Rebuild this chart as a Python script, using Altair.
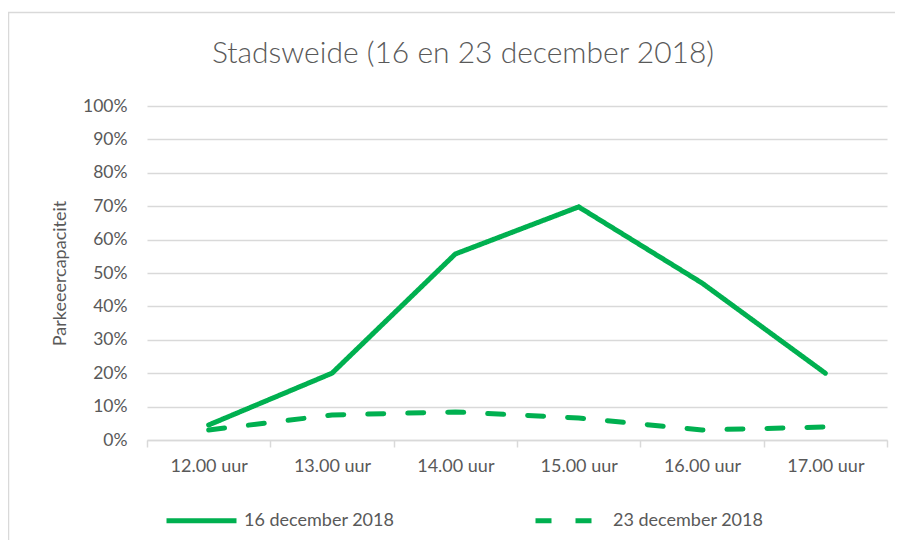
import altair as alt
import pandas as pd

hours = ["12.00 uur", "13.00 uur", "14.00 uur", "15.00 uur", "16.00 uur", "17.00 uur"]
series_names = ["16 december 2018", "23 december 2018"]
dec16 = [0.045, 0.20, 0.557, 0.698, 0.47, 0.20]
dec23 = [0.03, 0.075, 0.084, 0.066, 0.03, 0.039]
y_ticks = [i / 10 for i in range(11)]

rows = []
for h, v in zip(hours, dec16):
    rows.append({"uur": h, "serie": series_names[0], "waarde": v})
for h, v in zip(hours, dec23):
    rows.append({"uur": h, "serie": series_names[1], "waarde": v})
df = pd.DataFrame(rows)

GREEN = "#00B050"
TXT = "#595959"
GRID = "#D9D9D9"
FONT = "Lato"
W = 400

lines = alt.Chart(df).mark_line(strokeWidth=5, strokeCap="round", color=GREEN).encode(
    x=alt.X("uur:N", sort=hours, title=None,
            axis=alt.Axis(labelAngle=0, tickBand="extent", domainColor=GRID, tickColor=GRID,
                          tickSize=7, labelPadding=10, labelFontSize=18, labelColor=TXT,
                          labelFont=FONT, labelFontWeight=W, grid=False, domainWidth=1.5,
                          tickWidth=1.5)),
    y=alt.Y("waarde:Q", scale=alt.Scale(domain=[0, 1]),
            axis=alt.Axis(values=y_ticks, format=".0%", domain=False, ticks=False,
                          labelPadding=20, labelFontSize=17.5, labelColor=TXT, labelFont=FONT,
                          labelFontWeight=W,
                          gridColor=GRID, gridWidth=1.5, title="Parkeeercapaciteit",
                          titleFontSize=18, titleFont=FONT, titleColor=TXT,
                          titleFontWeight=W, titleX=-87, titleY=167,
                          titleBaseline="middle", titleAngle=-90)),
    strokeDash=alt.StrokeDash("serie:N", sort=series_names,
                              scale=alt.Scale(domain=series_names, range=[[1, 0], [16, 24]]),
                              legend=alt.Legend(title=None, orient="none", legendX=17, legendY=377,
                                                direction="horizontal", symbolType="stroke",
                                                symbolSize=4900, symbolStrokeWidth=5,
                                                symbolStrokeColor=GREEN, labelFontSize=18,
                                                labelColor=TXT, labelFont=FONT,
                                                labelFontWeight=W, labelOffset=5,
                                                columnPadding=130)),
)

frame = alt.Chart(pd.DataFrame({"a": [0]})).mark_rect(
    fill=None, stroke=GRID, strokeWidth=1.5, clip=False
).encode(x=alt.value(-138.5), x2=alt.value(760), y=alt.value(-93.5), y2=alt.value(460))

chart = alt.layer(frame, lines).properties(
    width=740, height=334,
    autosize=alt.AutoSizeParams(type="none"),
    padding={"left": 139, "top": 98, "right": 8, "bottom": 100},
    title=alt.TitleParams("Stadsweide (16 en 23 december 2018)", fontSize=30, font=FONT,
                          color=TXT, fontWeight=300, anchor="middle", dx=-54, offset=-57),
).configure_view(stroke=None)

chart.save("out.html", embed_options={"renderer": "svg", "actions": False})
